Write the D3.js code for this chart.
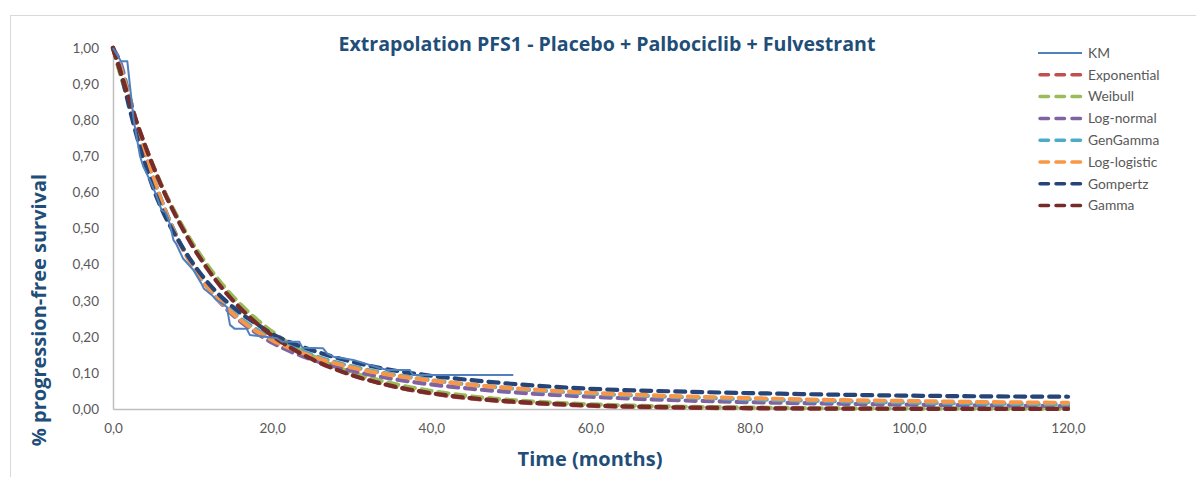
<!DOCTYPE html>
<html>
<head>
<meta charset="utf-8">
<script src="https://cdn.jsdelivr.net/npm/d3@7"></script>
<style>
  html, body { margin: 0; padding: 0; background: #ffffff; }
  svg { display: block; font-family: Lato, "Open Sans", "Liberation Sans", sans-serif; }
</style>
</head>
<body>
<svg id="chart" width="1196" height="477"></svg>
<script>
// ---- data ----------------------------------------------------------------
const title = "Extrapolation PFS1 - Placebo + Palbociclib + Fulvestrant";
const xTitle = "Time (months)";
const yTitle = "% progression-free survival";

const xTicks = [0, 20, 40, 60, 80, 100, 120];
const yTicks = [0, 0.1, 0.2, 0.3, 0.4, 0.5, 0.6, 0.7, 0.8, 0.9, 1.0];

// Kaplan-Meier estimate (months, survival)
const kmTime = [0, 1.0, 1.8, 2.6, 3.4, 3.8, 4.5, 5.3, 6.1, 6.6, 7.0, 7.6, 7.9, 8.8, 10.1, 11.1, 11.4, 12.4, 13.0, 14.3, 14.7, 15.3, 16.8, 17.2, 19.1, 20.6, 21.3, 23.4, 23.8, 26.4, 26.9, 27.7, 30.2, 33.6, 34.5, 37.3, 37.7, 50.3];
const kmSurv = [1.000, 0.963, 0.963, 0.800, 0.700, 0.672, 0.640, 0.600, 0.551, 0.545, 0.524, 0.468, 0.459, 0.417, 0.385, 0.348, 0.334, 0.316, 0.302, 0.283, 0.233, 0.222, 0.222, 0.205, 0.200, 0.196, 0.186, 0.186, 0.170, 0.168, 0.154, 0.145, 0.136, 0.113, 0.108, 0.108, 0.094, 0.094];

// Parametric extrapolations, evaluated on a common time grid (months)
const fitTime = [0, 1, 2, 3, 4, 5, 6, 8, 10, 12, 14, 16, 18, 20, 25, 30, 35, 40, 45, 50, 60, 70, 80, 90, 100, 110, 120];
const exponential = [1.000, 0.925, 0.855, 0.790, 0.731, 0.675, 0.624, 0.534, 0.456, 0.390, 0.333, 0.285, 0.243, 0.208, 0.141, 0.095, 0.064, 0.043, 0.029, 0.020, 0.009, 0.004, 0.002, 0.001, 0.0004, 0.0002, 0.0001];
const weibull     = [1.000, 0.922, 0.851, 0.787, 0.728, 0.673, 0.623, 0.535, 0.459, 0.394, 0.338, 0.290, 0.249, 0.214, 0.147, 0.102, 0.071, 0.050, 0.035, 0.025, 0.013, 0.007, 0.004, 0.002, 0.0012, 0.0007, 0.0004];
const logNormal   = [1.000, 0.955, 0.872, 0.790, 0.712, 0.643, 0.582, 0.479, 0.398, 0.334, 0.283, 0.243, 0.211, 0.184, 0.137, 0.106, 0.084, 0.068, 0.056, 0.047, 0.034, 0.025, 0.019, 0.015, 0.012, 0.010, 0.008];
const genGamma    = [1.000, 0.945, 0.868, 0.789, 0.714, 0.645, 0.583, 0.478, 0.398, 0.336, 0.289, 0.251, 0.221, 0.196, 0.150, 0.118, 0.096, 0.080, 0.067, 0.057, 0.043, 0.034, 0.027, 0.022, 0.018, 0.015, 0.013];
const logLogistic = [1.000, 0.940, 0.865, 0.787, 0.714, 0.645, 0.581, 0.476, 0.396, 0.334, 0.286, 0.247, 0.216, 0.191, 0.146, 0.115, 0.094, 0.079, 0.067, 0.058, 0.045, 0.036, 0.030, 0.025, 0.022, 0.019, 0.017];
const gompertz    = [1.000, 0.930, 0.840, 0.755, 0.680, 0.615, 0.560, 0.475, 0.405, 0.348, 0.303, 0.266, 0.236, 0.208, 0.163, 0.131, 0.108, 0.092, 0.080, 0.070, 0.056, 0.049, 0.044, 0.040, 0.037, 0.035, 0.034];
const gamma       = [1.000, 0.930, 0.860, 0.793, 0.732, 0.675, 0.622, 0.530, 0.451, 0.384, 0.327, 0.279, 0.238, 0.203, 0.138, 0.094, 0.064, 0.044, 0.030, 0.021, 0.010, 0.005, 0.0025, 0.0012, 0.0006, 0.0003, 0.00015];

const seriesNames  = ["KM", "Exponential", "Weibull", "Log-normal", "GenGamma", "Log-logistic", "Gompertz", "Gamma"];
const seriesColors = ["#4f81bd", "#c0504d", "#9bbb59", "#8064a2", "#4bacc6", "#f79646", "#264478", "#772c2a"];

// ---- layout ---------------------------------------------------------------
const svg = d3.select("#chart");
const W = 1196, H = 477;
const plot = { left: 113, right: 1068, top: 48, bottom: 409 };

const x = d3.scaleLinear().domain([0, 120]).range([plot.left, plot.right]);
const y = d3.scaleLinear().domain([0, 1]).range([plot.bottom, plot.top]);

const locale = d3.formatLocale({ decimal: ",", thousands: ".", grouping: [3], currency: ["", "€"] });
const fmtY = locale.format(".2f");
const fmtX = locale.format(".1f");

// chart-area frame
svg.append("rect")
  .attr("x", 10.5).attr("y", 15.5)
  .attr("width", W + 20).attr("height", H + 20)
  .attr("fill", "#ffffff").attr("stroke", "#d9d9d9").attr("stroke-width", 1);

// axes
const yAxis = svg.append("g")
  .attr("transform", `translate(${plot.left},0)`)
  .call(d3.axisLeft(y).tickValues(yTicks).tickSize(0).tickPadding(14).tickFormat(fmtY));
const xAxis = svg.append("g")
  .attr("transform", `translate(0,${plot.bottom})`)
  .call(d3.axisBottom(x).tickValues(xTicks).tickSize(0).tickPadding(14).tickFormat(fmtX));

[yAxis, xAxis].forEach(g => {
  g.select(".domain").attr("stroke", "#bfbfbf").attr("stroke-width", 1.5);
  g.selectAll("text").attr("fill", "#595959").style("font-size", "13.5px")
    .style("font-family", "Lato, 'Open Sans', sans-serif");
});

// fitted curves
const fits = [exponential, weibull, logNormal, genGamma, logLogistic, gompertz, gamma];
const line = d3.line().x(d => x(d[0])).y(d => y(d[1])).curve(d3.curveMonotoneX);

const curves = svg.append("g");
fits.forEach((vals, i) => {
  curves.append("path")
    .datum(fitTime.map((t, k) => [t, vals[k]]))
    .attr("d", line)
    .attr("fill", "none")
    .attr("stroke", seriesColors[i + 1])
    .attr("stroke-width", 4.2)
    .attr("stroke-linecap", "round")
    .attr("stroke-dasharray", "10,7");
});

// Kaplan-Meier line
const kmLine = d3.line().x(d => x(d[0])).y(d => y(d[1]));
svg.append("path")
  .datum(kmTime.map((t, k) => [t, kmSurv[k]]))
  .attr("d", kmLine)
  .attr("fill", "none")
  .attr("stroke", seriesColors[0])
  .attr("stroke-width", 2)
  .attr("stroke-linejoin", "round");

// title
svg.append("text")
  .attr("x", 607).attr("y", 51)
  .attr("text-anchor", "middle")
  .attr("fill", "#1f4e79")
  .style("font-family", "'Open Sans', Lato, sans-serif")
  .style("font-size", "19.6px").style("font-weight", "bold")
  .text(title);

// axis titles
svg.append("text")
  .attr("x", 590).attr("y", 466)
  .attr("text-anchor", "middle")
  .attr("fill", "#1f4e79")
  .style("font-family", "'Open Sans', Lato, sans-serif")
  .style("font-size", "20px").style("font-weight", "bold")
  .text(xTitle);

svg.append("text")
  .attr("transform", "translate(46,310) rotate(-90)")
  .attr("text-anchor", "middle")
  .attr("fill", "#1f4e79")
  .style("font-family", "'Open Sans', Lato, sans-serif")
  .style("font-size", "20px").style("font-weight", "bold")
  .text(yTitle);

// legend
const legend = svg.append("g").attr("transform", "translate(1038,53)");
seriesNames.forEach((name, i) => {
  const row = legend.append("g").attr("transform", `translate(0,${i * 21.8})`);
  row.append("line")
    .attr("x1", i === 0 ? 0 : 2).attr("x2", i === 0 ? 44 : 43).attr("y1", 0).attr("y2", 0)
    .attr("stroke", seriesColors[i])
    .attr("stroke-width", i === 0 ? 2 : 3.5)
    .attr("stroke-linecap", i === 0 ? "butt" : "round")
    .attr("stroke-dasharray", i === 0 ? null : "8.5,7.5");
  row.append("text")
    .attr("x", 50).attr("y", 0).attr("dy", "0.35em")
    .attr("fill", "#595959")
    .style("font-size", "13.8px")
    .text(name);
});
</script>
</body>
</html>
